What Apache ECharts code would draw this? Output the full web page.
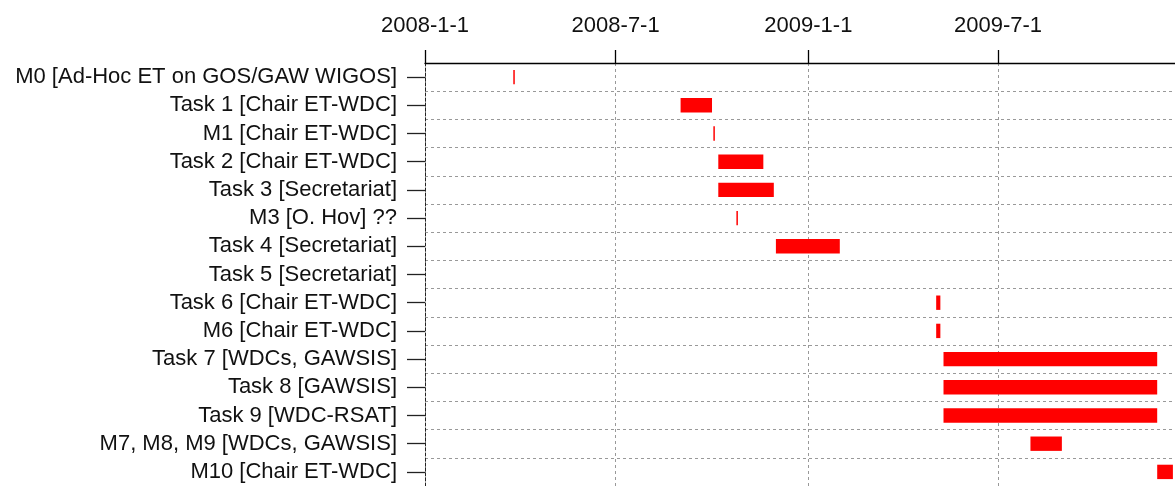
<!DOCTYPE html>
<html>
<head>
<meta charset="utf-8">
<script src="https://cdn.jsdelivr.net/npm/echarts@6/dist/echarts.min.js"></script>
<style>
html,body{margin:0;padding:0;background:#fff;}
#chart{width:1175px;height:486px;}
</style>
</head>
<body>
<div id="chart"></div>
<script>
// ---- data ----
const categories = [
  'M0 [Ad-Hoc ET on GOS/GAW WIGOS]',
  'Task 1 [Chair ET-WDC]',
  'M1 [Chair ET-WDC]',
  'Task 2 [Chair ET-WDC]',
  'Task 3 [Secretariat]',
  'M3 [O. Hov] ??',
  'Task 4 [Secretariat]',
  'Task 5 [Secretariat]',
  'Task 6 [Chair ET-WDC]',
  'M6 [Chair ET-WDC]',
  'Task 7 [WDCs, GAWSIS]',
  'Task 8 [GAWSIS]',
  'Task 9 [WDC-RSAT]',
  'M7, M8, M9 [WDCs, GAWSIS]',
  'M10 [Chair ET-WDC]'
];
const startDates = [
  '2008-03-26','2008-09-01','2008-10-03','2008-10-07','2008-10-07','2008-10-25',
  '2008-12-01', null,'2009-05-03','2009-05-03','2009-05-10','2009-05-10',
  '2009-05-10','2009-08-01','2009-11-30'
];
const endDates = [
  '2008-03-26','2008-10-01','2008-10-03','2008-11-19','2008-11-29','2008-10-25',
  '2009-01-31', null,'2009-05-07','2009-05-07','2009-11-30','2009-11-30',
  '2009-11-30','2009-08-31','2009-12-15'
];
const tickDates = ['2008-01-01','2008-07-01','2009-01-01','2009-07-01'];
const tickLabels = ['2008-1-1','2008-7-1','2009-1-1','2009-7-1'];
const axisMin = '2008-01-01';
const axisMax = '2009-12-17';

// ---- helpers ----
function t(s){ const p = s.split('-').map(Number); return Date.UTC(p[0], p[1]-1, p[2]); }
const tickValues = tickDates.map(t);

const data = [];
categories.forEach((c, i) => {
  if (startDates[i] && endDates[i]) data.push([i, t(startDates[i]), t(endDates[i])]);
});

const chart = echarts.init(document.getElementById('chart'), null, {renderer:'canvas'});
const FONT = "'Liberation Sans', Arial, sans-serif";

chart.setOption({
  animation: false,
  backgroundColor: '#ffffff',
  grid: {left: 425, right: 0, top: 63, bottom: -3, containLabel: false},
  xAxis: {
    type: 'value',
    position: 'top',
    min: t(axisMin),
    max: t(axisMax),
    axisLine: {show: true, lineStyle: {color: '#000', width: 1.3}},
    axisTick: {show: true, length: 13, lineStyle: {color: '#000', width: 1.3}, customValues: tickValues},
    axisLabel: {
      show: true, margin: 26, fontSize: 22, fontFamily: FONT, color: '#111',
      customValues: tickValues,
      formatter: function (v) {
        const i = tickValues.indexOf(v);
        return i >= 0 ? tickLabels[i] : '';
      }
    },
    splitLine: {show: true, lineStyle: {color: '#999', type: [3, 3], width: 1}}
  },
  yAxis: {
    type: 'category',
    data: categories,
    inverse: true,
    position: 'left',
    axisLine: {show: true, lineStyle: {color: '#222', type: [3, 2], width: 1}},
    axisTick: {show: true, interval: 0, alignWithLabel: true, length: 18, lineStyle: {color: '#222', width: 1.3}},
    axisLabel: {interval: 0, margin: 28, fontSize: 22, fontFamily: FONT, color: '#111'},
    splitLine: {show: true, interval: 0, lineStyle: {color: '#999', type: [3, 3], width: 1}}
  },
  series: [{
    type: 'custom',
    encode: {x: [1, 2], y: 0},
    data: data,
    renderItem: function (params, api) {
      const cat = api.value(0);
      const p0 = api.coord([api.value(1), cat]);
      const p1 = api.coord([api.value(2), cat]);
      const h = api.size([0, 1])[1] * 0.51;
      let w = p1[0] - p0[0];
      let x = p0[0];
      if (w < 1.5) { x = x - 0.75; w = 1.5; }
      return {
        type: 'rect',
        shape: {x: x, y: p0[1] - h / 2, width: w, height: h},
        style: {fill: '#ff0000'}
      };
    }
  }]
});
</script>
</body>
</html>
